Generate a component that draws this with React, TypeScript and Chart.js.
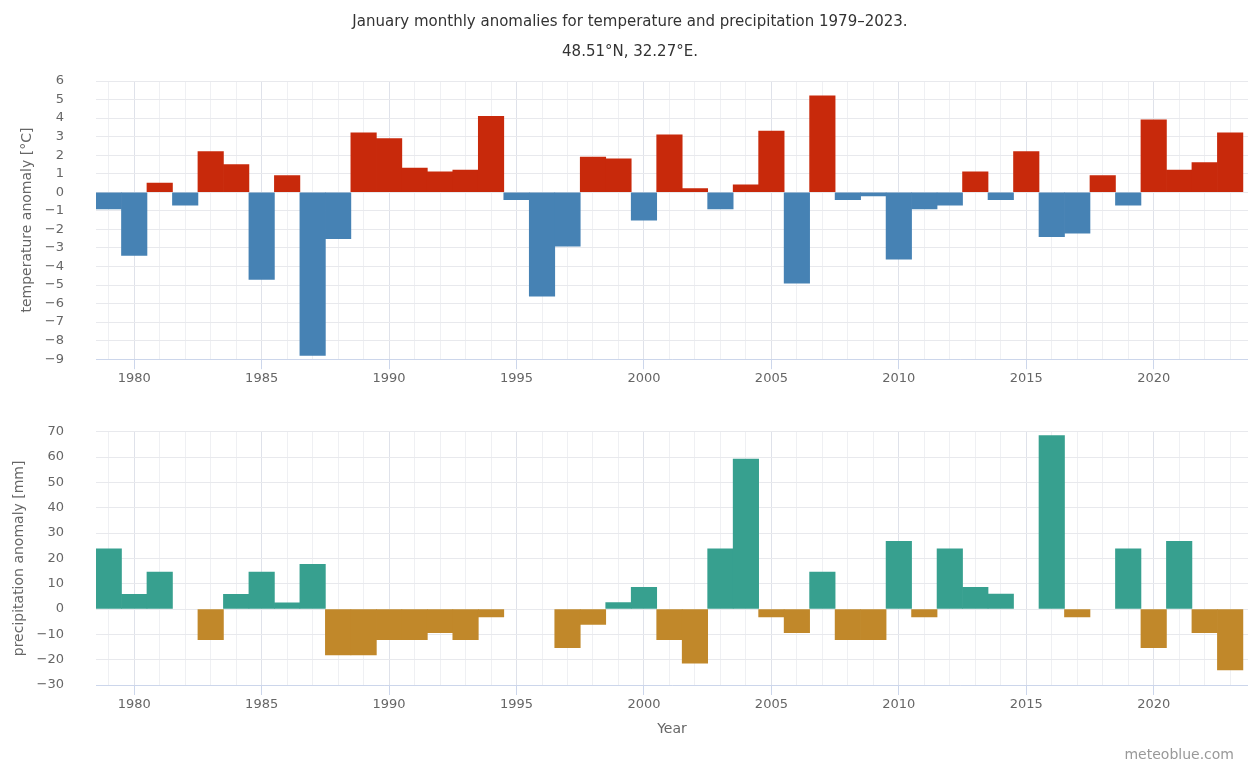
import React, { useEffect, useRef } from 'react';
import { Chart, registerables } from 'chart.js';

Chart.register(...registerables);

// ---------------- data ----------------
const years = [
  1979, 1980, 1981, 1982, 1983, 1984, 1985, 1986, 1987, 1988,
  1989, 1990, 1991, 1992, 1993, 1994, 1995, 1996, 1997, 1998,
  1999, 2000, 2001, 2002, 2003, 2004, 2005, 2006, 2007, 2008,
  2009, 2010, 2011, 2012, 2013, 2014, 2015, 2016, 2017, 2018,
  2019, 2020, 2021, 2022, 2023,
];

// January temperature anomaly [°C]
const temperatureAnomaly = [
  -0.9, -3.4, 0.5, -0.7, 2.2, 1.5, -4.7, 0.9, -8.8, -2.5,
  3.2, 2.9, 1.3, 1.1, 1.2, 4.1, -0.4, -5.6, -2.9, 1.9,
  1.8, -1.5, 3.1, 0.2, -0.9, 0.4, 3.3, -4.9, 5.2, -0.4,
  -0.2, -3.6, -0.9, -0.7, 1.1, -0.4, 2.2, -2.4, -2.2, 0.9,
  -0.7, 3.9, 1.2, 1.6, 3.2,
];

// January precipitation anomaly [mm]
const precipitationAnomaly = [
  23.8, 5.8, 14.6, 0, -12.1, 5.8, 14.6, 2.5, 17.7, -18.1,
  -18.1, -12.1, -12.1, -9.3, -12.1, -3.1, 0, 0, -15.3, -6.1,
  2.6, 8.6, -12.1, -21.4, 23.8, 59.2, -3.1, -9.3, 14.6, -12.1,
  -12.1, 26.7, -3.1, 23.8, 8.6, 5.9, 0, 68.5, -3.1, 0,
  23.8, -15.3, 26.7, -9.3, -24.0,
];

const titleText = 'January monthly anomalies for temperature and precipitation 1979–2023.';
const subtitleText = '48.51°N, 32.27°E.';
const tempAxisTitle = 'temperature anomaly [°C]';
const precipAxisTitle = 'precipitation anomaly [mm]';
const xAxisTitle = 'Year';
const creditText = 'meteoblue.com';

// ---------------- styles ----------------
const FONT = 'DejaVu Sans';
const RED = '#c8290b';
const BLUE = '#4682b4';
const TEAL = '#37a08f';
const GOLD = '#c1882a';
const TICK_COLOR = '#666666';
const GRID_MINOR = '#eff0f3';
const GRID_MAJOR = '#dfe2ea';
const GRID_H = '#e8e9ed';
const AXIS_LINE = '#ccd6eb';

const X_MIN = 1978.5;
const X_MAX = 2023.7;

const fmtMinus = (v: number | string) => String(v).replace('-', '\u2212');

function xScale(height: number, withTitle: boolean, titlePadBottom: number) {
  return {
    type: 'linear' as const,
    min: X_MIN,
    max: X_MAX,
    offset: false,
    afterBuildTicks: (scale: any) => {
      scale.ticks = years.map((v) => ({ value: v }));
    },
    afterFit: (scale: any) => {
      scale.height = height;
    },
    ticks: {
      autoSkip: false,
      maxRotation: 0,
      minRotation: 0,
      padding: 2,
      color: TICK_COLOR,
      font: { family: FONT, size: 13 },
      callback: (v: any) => (Number(v) % 5 === 0 ? String(v) : ''),
    },
    grid: {
      offset: false,
      color: (ctx: any) => (ctx.tick && ctx.tick.value % 5 === 0 ? GRID_MAJOR : GRID_MINOR),
      tickColor: (ctx: any) => (ctx.tick && ctx.tick.value % 5 === 0 ? AXIS_LINE : 'rgba(0,0,0,0)'),
      tickLength: 10,
      drawTicks: true,
      lineWidth: 1,
    },
    border: { display: true, color: AXIS_LINE, width: 1 },
    title: {
      display: withTitle,
      text: xAxisTitle,
      color: TICK_COLOR,
      font: { family: FONT, size: 14 },
      padding: { top: 0, bottom: titlePadBottom },
    },
  };
}

function yScale(min: number, max: number, step: number, width: number, title: string, titlePadTop: number) {
  return {
    type: 'linear' as const,
    min,
    max,
    afterFit: (scale: any) => {
      scale.width = width;
    },
    ticks: {
      stepSize: step,
      padding: 32,
      color: TICK_COLOR,
      font: { family: FONT, size: 13 },
      callback: (v: any) => fmtMinus(v),
    },
    grid: { color: GRID_H, drawTicks: false, lineWidth: 1 },
    border: { display: false },
    title: {
      display: true,
      text: title,
      color: TICK_COLOR,
      font: { family: FONT, size: 14 },
      padding: { top: titlePadTop, bottom: 0 },
    },
  };
}

const creditPlugin = {
  id: 'credit',
  afterDraw(chart: any) {
    const ctx = chart.ctx;
    ctx.save();
    ctx.font = `14px "${FONT}"`;
    ctx.fillStyle = '#999999';
    ctx.textAlign = 'right';
    ctx.textBaseline = 'middle';
    ctx.fillText(creditText, chart.width - 14, chart.height - 8);
    ctx.restore();
  },
};

const toPoints = (values: number[]) =>
  years.map((y, i) => ({ x: y, y: values[i] === 0 ? null : values[i] }));

export default function App() {
  const topRef = useRef<HTMLCanvasElement | null>(null);
  const bottomRef = useRef<HTMLCanvasElement | null>(null);

  useEffect(() => {
    if (!topRef.current || !bottomRef.current) return;

    const top = new Chart(topRef.current, {
      type: 'bar',
      data: {
        datasets: [
          {
            label: 'Temperature anomaly',
            data: toPoints(temperatureAnomaly),
            backgroundColor: temperatureAnomaly.map((v) => (v >= 0 ? RED : BLUE)),
            borderWidth: 0,
            barPercentage: 1,
            categoryPercentage: 1,
          },
        ],
      },
      options: {
        responsive: false,
        animation: false,
        devicePixelRatio: 1,
        layout: { padding: { left: 12, right: 0, top: 0, bottom: 0 } },
        plugins: {
          legend: { display: false },
          tooltip: { enabled: false },
          title: {
            display: true,
            text: titleText,
            color: '#333333',
            font: { family: FONT, size: 15, weight: 'normal' },
            padding: { top: 13, bottom: 6 },
          },
          subtitle: {
            display: true,
            text: subtitleText,
            color: '#333333',
            font: { family: FONT, size: 15, weight: 'normal' },
            padding: { top: 6, bottom: 20 },
          },
        },
        scales: {
          x: xScale(33, false, 0),
          y: yScale(-9, 6, 1, 84, tempAxisTitle, 6.6),
        },
      } as any,
    });

    const bottom = new Chart(bottomRef.current, {
      type: 'bar',
      data: {
        datasets: [
          {
            label: 'Precipitation anomaly',
            data: toPoints(precipitationAnomaly),
            backgroundColor: precipitationAnomaly.map((v) => (v >= 0 ? TEAL : GOLD)),
            borderWidth: 0,
            barPercentage: 1,
            categoryPercentage: 1,
          },
        ],
      },
      options: {
        responsive: false,
        animation: false,
        devicePixelRatio: 1,
        layout: { padding: { left: 0, right: 0, top: 15, bottom: 0 } },
        plugins: {
          legend: { display: false },
          tooltip: { enabled: false },
        },
        scales: {
          x: xScale(78, true, 25.6),
          y: yScale(-30, 70, 10, 96, precipAxisTitle, 11),
        },
      } as any,
      plugins: [creditPlugin],
    });

    return () => {
      top.destroy();
      bottom.destroy();
    };
  }, []);

  return (
    <div style={{ position: 'absolute', left: 0, top: 0, width: 1248, height: 763, background: '#ffffff' }}>
      <canvas
        ref={bottomRef}
        width={1248}
        height={371}
        style={{ position: 'absolute', left: 0, top: 392, width: 1248, height: 371, display: 'block' }}
      />
      <canvas
        ref={topRef}
        width={1248}
        height={399}
        style={{ position: 'absolute', left: 0, top: 0, width: 1248, height: 399, display: 'block' }}
      />
    </div>
  );
}
